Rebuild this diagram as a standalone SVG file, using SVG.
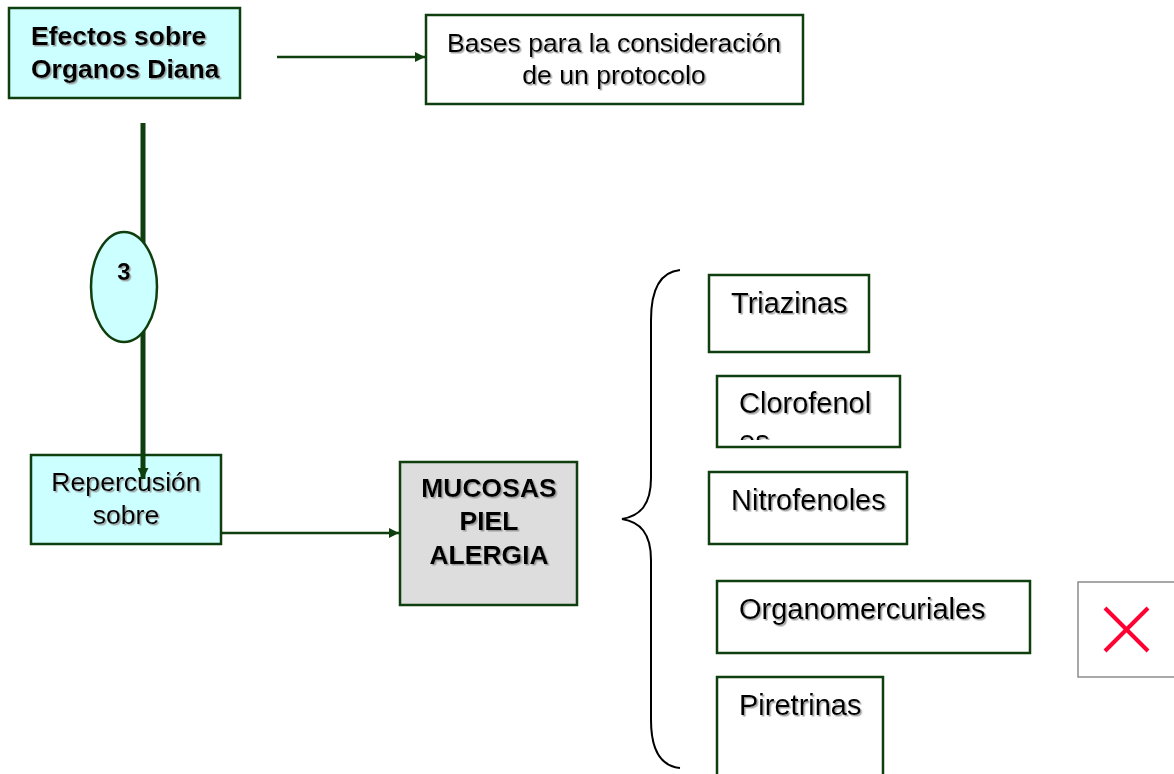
<svg xmlns="http://www.w3.org/2000/svg" width="1174" height="774" viewBox="0 0 1174 774">
<style>
.box{stroke:#0f3f0f;stroke-width:2.5}
.cyan{fill:#ccffff}
.white{fill:#ffffff}
.gray{fill:#dddddd}
.t{font-family:"Liberation Sans",Arial,sans-serif;fill:#000;filter:url(#sh)}
.b{font-weight:bold;font-size:26.5px}
.r{font-size:26.6px}
.i{font-size:29px}
.conn{stroke:#0f3f0f;fill:none}
</style>
<defs>
<filter id="sh" x="-5%" y="-20%" width="115%" height="150%">
<feDropShadow dx="1.5" dy="1.5" stdDeviation="0.6" flood-color="#8a8a8a" flood-opacity="0.8"/>
</filter>
<marker id="ah" viewBox="0 0 10 10" refX="10" refY="5" markerWidth="4" markerHeight="4" orient="auto" markerUnits="strokeWidth">
<path d="M0,0 L10,5 L0,10 z" fill="#0f3f0f"/>
</marker>
<marker id="ah2" viewBox="0 0 10 10" refX="10" refY="5" markerWidth="2.2" markerHeight="2.2" orient="auto" markerUnits="strokeWidth">
<path d="M0,0 L10,5 L0,10 z" fill="#0f3f0f"/>
</marker>
<clipPath id="clipCloro"><rect x="718" y="377" width="181" height="63"/></clipPath>
</defs>

<g id="efectos">
<rect class="box cyan" x="9" y="8" width="231" height="90"/>
<text class="t b" x="31" y="45">Efectos sobre</text>
<text class="t b" x="31" y="78">Organos Diana</text>
</g>

<g id="bases">
<rect class="box white" x="426" y="15" width="377" height="89"/>
<text class="t r" x="614" y="52" text-anchor="middle">Bases para la consideración</text>
<text class="t r" x="614" y="84" text-anchor="middle">de un protocolo</text>
</g>

<g id="repercusion">
<rect class="box cyan" x="31" y="455" width="190" height="89"/>
<text class="t r" x="126" y="491" text-anchor="middle">Repercusión</text>
<text class="t r" x="126" y="524" text-anchor="middle">sobre</text>
</g>

<g id="mucosas">
<rect class="box gray" x="400" y="462" width="177" height="143"/>
<text class="t b" x="489" y="497" text-anchor="middle">MUCOSAS</text>
<text class="t b" x="489" y="530" text-anchor="middle">PIEL</text>
<text class="t b" x="489" y="564" text-anchor="middle">ALERGIA</text>
</g>

<g id="connectors">
<line class="conn" x1="277" y1="57" x2="425" y2="57" stroke-width="2.5" marker-end="url(#ah)"/>
<line class="conn" x1="143" y1="123" x2="143" y2="479" stroke-width="5" marker-end="url(#ah2)"/>
<line class="conn" x1="222" y1="533" x2="399" y2="533" stroke-width="2.5" marker-end="url(#ah)"/>
</g>

<g id="badge3">
<ellipse cx="124" cy="287" rx="33" ry="55" fill="#ccffff" stroke="#0f3f0f" stroke-width="2.5"/>
<text class="t" x="124" y="280" text-anchor="middle" font-size="24" font-weight="bold">3</text>
</g>

<g id="brace">
<path d="M680,270 C660,272 651,290 651,320 L651,478 C651,505 640,516 622,519 C640,522 651,533 651,560 L651,720 C651,750 660,766 680,768" fill="none" stroke="#000" stroke-width="2"/>
</g>

<g id="triazinas">
<rect class="box white" x="709" y="275" width="160" height="77"/>
<text class="t i" x="731" y="313">Triazinas</text>
</g>

<g id="clorofenoles">
<rect class="box white" x="717" y="376" width="183" height="71"/>
<g clip-path="url(#clipCloro)">
<text class="t i" x="739" y="413">Clorofenol</text>
<text class="t i" x="739" y="451">es</text>
</g>
</g>

<g id="nitrofenoles">
<rect class="box white" x="709" y="472" width="198" height="72"/>
<text class="t i" x="731" y="510">Nitrofenoles</text>
</g>

<g id="organomercuriales">
<rect class="box white" x="717" y="581" width="313" height="72"/>
<text class="t i" x="739" y="619">Organomercuriales</text>
</g>

<g id="piretrinas">
<rect class="box white" x="717" y="677" width="166" height="100"/>
<text class="t i" x="739" y="715">Piretrinas</text>
</g>

<g id="xmark">
<rect x="1078" y="582" width="97" height="95" fill="#ffffff" stroke="#8c8c8c" stroke-width="1.5"/>
<line x1="1105" y1="608" x2="1148" y2="651" stroke="#ff0033" stroke-width="4"/>
<line x1="1148" y1="608" x2="1105" y2="651" stroke="#ff0033" stroke-width="4"/>
</g>
</svg>
